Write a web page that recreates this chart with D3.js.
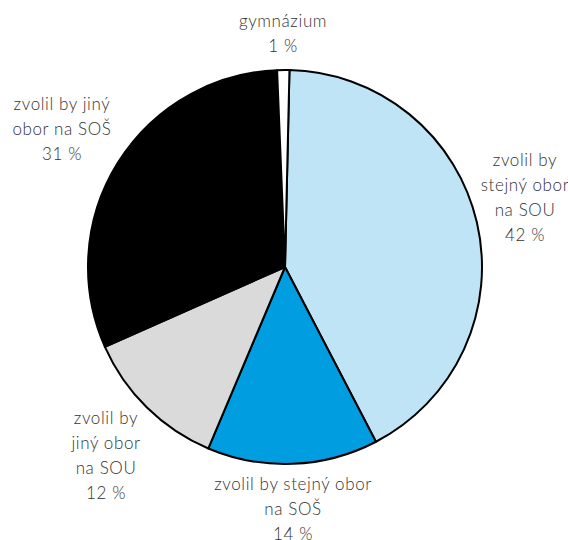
<!DOCTYPE html>
<html><head><meta charset="utf-8">
<script src="https://cdn.jsdelivr.net/npm/d3@7"></script>
<style>
body{margin:0;background:#fff;}
text{font-family:Lato,"DejaVu Sans",sans-serif;font-weight:300;fill:#333;font-size:17px;letter-spacing:0.6px;}
</style></head>
<body><svg id="c" width="568" height="540"></svg>
<script>
const categories = [
  ["zvolil by", "stejný obor", "na SOU"],
  ["zvolil by stejný obor", "na SOŠ"],
  ["zvolil by", "jiný obor", "na SOU"],
  ["zvolil by jiný", "obor na SOŠ"],
  ["gymnázium"]
];
const values = [42, 14, 12, 31, 1];
const valueLabels = ["42 %", "14 %", "12 %", "31 %", "1 %"];
const colors = ["#bee4f6", "#009ee0", "#dadadb", "#000000", "#ffffff"];

// layout: label anchor (x, first baseline y)
const labelPos = [[525, 166], [293, 490], [106, 424], [62, 110], [283, 27]];

const svg = d3.select("#c");
const cx = 285, cy = 267, R = 197;
const start = 1.3 * Math.PI / 180;
const pie = d3.pie().sort(null).value(d => d)
  .startAngle(start).endAngle(start + 2 * Math.PI);
const arc = d3.arc().innerRadius(0).outerRadius(R);
const g = svg.append("g").attr("transform", `translate(${cx},${cy})`);
g.selectAll("path").data(pie(values)).join("path")
  .attr("d", arc)
  .attr("fill", (d, i) => colors[i])
  .attr("stroke", "#000")
  .attr("stroke-width", 2)
  .attr("stroke-linejoin", "round");

const lh = 25;
categories.forEach((lines, i) => {
  const t = svg.append("text").attr("text-anchor", "middle");
  const all = lines.concat([valueLabels[i]]);
  all.forEach((s, j) => {
    t.append("tspan").attr("x", labelPos[i][0]).attr("y", labelPos[i][1] + j * lh).text(s);
  });
});
</script></body></html>
